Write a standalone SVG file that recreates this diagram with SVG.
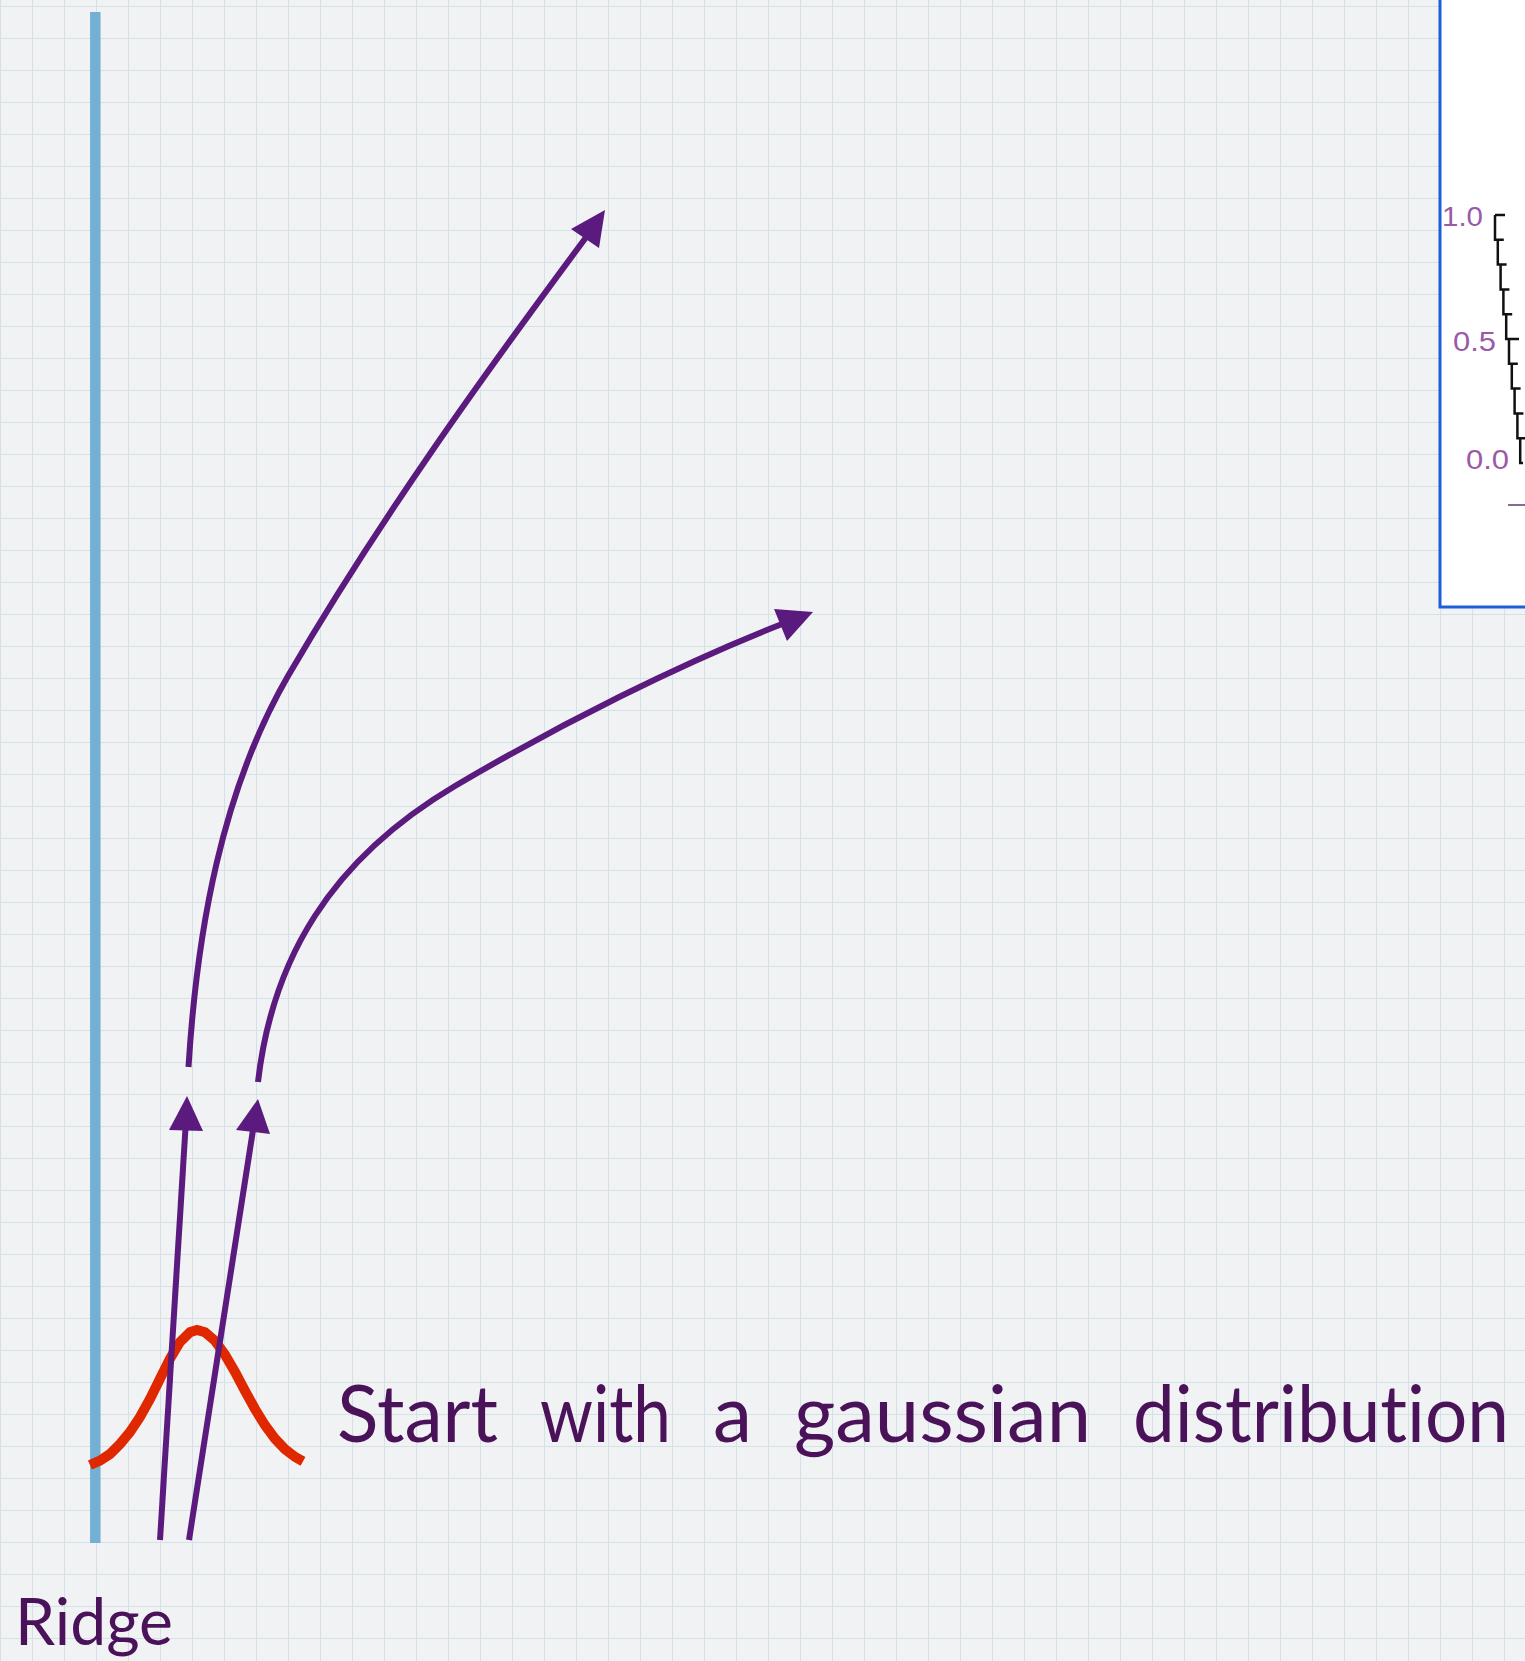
<svg xmlns="http://www.w3.org/2000/svg" width="1525" height="1661" viewBox="0 0 1525 1661">
<defs>
<pattern id="grid" x="0" y="6" width="32" height="32" patternUnits="userSpaceOnUse">
<path d="M0,0 H32 M0,0 V32" fill="none" stroke="#d4e2e8" stroke-width="2"/>
</pattern>
<style>
.flow{fill:none;stroke:#5b1a7d;stroke-width:6;stroke-linecap:butt}
.head{fill:#5b1a7d}
.lbl{font-family:Lato,"Open Sans","Liberation Sans",sans-serif;fill:#4a1259;font-variant-ligatures:none;font-feature-settings:"liga" 0,"dlig" 0}
.tick{font-family:"Liberation Sans",Arial,sans-serif;font-size:27px;fill:#9a5aa8}
</style>
</defs>
<rect width="1525" height="1661" fill="#f1f2f3"/>
<rect width="1525" height="1661" fill="url(#grid)"/>

<g id="ridge">
<line x1="95.3" y1="12" x2="95.3" y2="1543" stroke="#74b0d4" stroke-width="10.5"/>
<text class="lbl" x="15" y="1645" font-size="66" textLength="158" lengthAdjust="spacingAndGlyphs">Ridge</text>
</g>

<g id="gaussian">
<polyline fill="none" stroke="#e02800" stroke-width="10" points="90,1465 100,1460.6 110,1454 120,1444 130,1432 140,1417 150,1399 160,1378.7 170,1358.6 180,1342 190,1332.1 197,1330 205,1332.2 215,1340.8 225,1354.7 235,1372 245,1390.8 255,1409 265,1425.3 275,1438.8 285,1449.3 295,1456.9 303,1461.3"/>
</g>

<g id="caption">
<text class="lbl" y="1442" font-size="80">
<tspan x="337" textLength="161" lengthAdjust="spacingAndGlyphs">Start</tspan>
<tspan x="540" textLength="131" lengthAdjust="spacingAndGlyphs">with</tspan>
<tspan x="713" textLength="39" lengthAdjust="spacingAndGlyphs">a</tspan>
<tspan x="794" textLength="297" lengthAdjust="spacingAndGlyphs">gaussian</tspan>
<tspan x="1133" textLength="376" lengthAdjust="spacingAndGlyphs">distribution</tspan>
</text>
</g>

<g id="plot">
<rect x="1440" y="-10" width="100" height="617" fill="#ffffff" stroke="#1c5fd9" stroke-width="3"/>
<path d="M1495,215 V239.8 H1497.8 V264.6 H1500.6 V289.4 H1503.4 V314.2 H1506.2 V339 H1509 V363.8 H1511.8 V388.6 H1514.6 V413.4 H1517.4 V438.2 H1520.2 V463 H1523 M1495,215 h10 M1509,339 h10 M1497.8,239.8 h6 M1500.6,264.6 h6 M1503.4,289.4 h6 M1506.2,314.2 h6 M1511.8,363.8 h6 M1514.6,388.6 h6 M1517.4,413.4 h6 M1520.2,438.2 h5" fill="none" stroke="#111111" stroke-width="2.5"/>
<text class="tick" x="1442" y="226" textLength="41" lengthAdjust="spacingAndGlyphs">1.0</text>
<text class="tick" x="1453" y="351" textLength="43" lengthAdjust="spacingAndGlyphs">0.5</text>
<text class="tick" x="1466" y="469" textLength="43" lengthAdjust="spacingAndGlyphs">0.0</text>
<line x1="1508" y1="505" x2="1525" y2="505" stroke="#8a6a92" stroke-width="2"/>
</g>

<g id="connectors">
<line class="flow" x1="160" y1="1540" x2="185.5" y2="1128"/>
<polygon class="head" points="187,1096 169,1130 203,1131"/>
<line class="flow" x1="189" y1="1540" x2="253" y2="1130"/>
<polygon class="head" points="258,1099 236,1130 270,1134"/>
<path class="flow" d="M188.5,1067 C197,930 222,790 288,676 C378,522 480,380 590,232"/>
<polygon class="head" points="605,210 571,229 599,248"/>
<path class="flow" d="M258,1082 C272,960 330,860 455,786 C560,724 680,664 782,624"/>
<polygon class="head" points="813,612 774,609 787,641"/>
</g>
</svg>
